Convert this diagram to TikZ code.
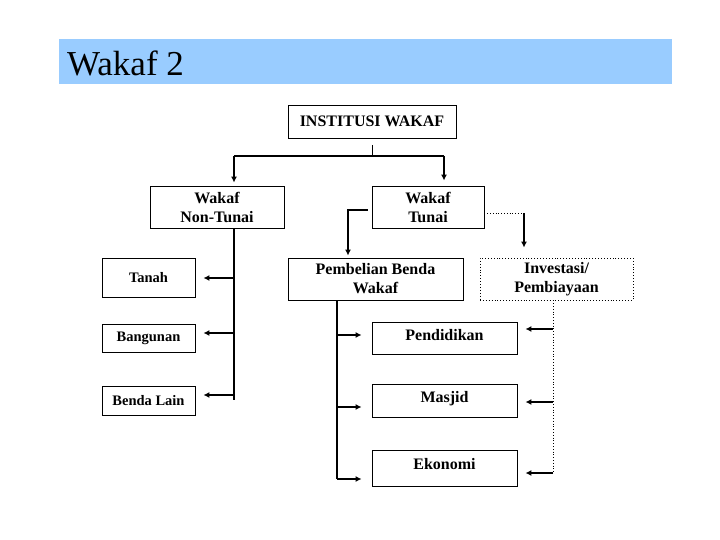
\documentclass[tikz,border=0pt]{standalone}
\usepackage{fontspec}
\setmainfont{Liberation Serif}
\usetikzlibrary{arrows.meta}
\begin{document}
\begin{tikzpicture}[x=1pt,y=-1pt,
  box/.style={draw=black,line width=0.9pt,fill=white,inner sep=0pt,align=center,font=\fontsize{16}{19}\selectfont\bfseries},
  sbox/.style={box,font=\fontsize{14.5}{17}\selectfont\bfseries},
  dbox/.style={box,dotted,line width=0.8pt},
  conn/.style={line width=1.2pt},
  arr/.style={line width=1.6pt,-{Latex[length=6pt,width=6pt]}},
  dconn/.style={line width=0.8pt,dotted}]
\useasboundingbox (0,0) rectangle (720,540);
\fill[white] (0,0) rectangle (720,540);
% title
\fill[fill={rgb,255:red,153;green,204;blue,255}] (59,39) rectangle (672,84);
\node[anchor=west,font=\fontsize{35}{40}\selectfont,inner sep=0pt] (title) at (67,63) {Wakaf 2};
% boxes
\node[box,minimum width=168pt,minimum height=33pt] (inst) at (372,121.5) {INSTITUSI WAKAF};
\node[box,minimum width=134pt,minimum height=42pt] (nont) at (217,207) {Wakaf\\Non-Tunai};
\node[box,minimum width=112pt,minimum height=42pt] (tunai) at (428,207) {Wakaf\\Tunai};
\node[sbox,minimum width=93pt,minimum height=39pt] (tanah) at (148.5,277.5) {Tanah};
\node[sbox,minimum width=93pt,minimum height=28pt] (bang) at (148.5,338) {Bangunan};
\node[sbox,minimum width=93pt,minimum height=29pt] (benda) at (148.5,400.5) {Benda Lain};
\node[box,minimum width=175pt,minimum height=42pt] (pemb) at (375.5,279) {Pembelian Benda\\Wakaf};
\node[dbox,minimum width=153pt,minimum height=42pt] (inv) at (556.5,279) {Investasi/\\Pembiayaan};
\node[box,minimum width=145pt,minimum height=32pt,text depth=7pt] (pend) at (444.5,338) {Pendidikan};
\node[box,minimum width=145pt,minimum height=33pt,text depth=7pt] (masj) at (444.5,400.5) {Masjid};
\node[box,minimum width=145pt,minimum height=36pt,text depth=9pt] (ekon) at (444.5,468) {Ekonomi};
% coordinates
\coordinate (t1) at (372,145);
\coordinate (t2) at (372,156);
\coordinate (hl) at (234,156);
\coordinate (hr) at (444,156);
\coordinate (nb) at (234,400);
\coordinate (tl) at (348,210);
\coordinate (tr) at (524,213);
\coordinate (pl) at (337,479);
\coordinate (ib) at (553,473);
% top connectors
\draw[line width=0.8pt] (t1) -- (t2);
\draw[conn] (hl) -- (hr);
\draw[arr] (hl) -- ([yshift=3pt]hl |- nont.north);
\draw[arr] (hr) -- ([yshift=5pt]hr |- tunai.north);
% non-tunai
\draw[conn] (nont.south -| nb) -- (nb);
\draw[arr] (234,278) -- ([xshift=8pt]tanah.east |- 0,278);
\draw[arr] (234,333) -- ([xshift=8pt]bang.east |- 0,333);
\draw[arr] (234,395) -- ([xshift=8pt]benda.east |- 0,395);
% tunai left
\draw[arr,line width=1.4pt] ([xshift=-4pt]tunai.west |- tl) -- (tl) -- ([yshift=2pt]tl |- pemb.north);
% tunai right
\draw[dconn] (tunai.east |- tr) -- (tr);
\draw[arr] (tr) -- ([yshift=10pt]tr |- inv.north);
% pembelian branch
\draw[conn] (pemb.south -| pl) -- (pl);
\draw[arr] (337,335) -- ([xshift=-10pt]pend.west |- 0,335);
\draw[arr] (337,407) -- ([xshift=-10pt]masj.west |- 0,407);
\draw[arr] (pl) -- ([xshift=-10pt]ekon.west |- pl);
% investasi branch
\draw[dconn] (inv.south -| ib) -- (ib);
\draw[arr] (553,329) -- ([xshift=8pt]pend.east |- 0,329);
\draw[arr] (553,402) -- ([xshift=8pt]masj.east |- 0,402);
\draw[arr] (ib) -- ([xshift=8pt]ekon.east |- ib);
\end{tikzpicture}
\end{document}
